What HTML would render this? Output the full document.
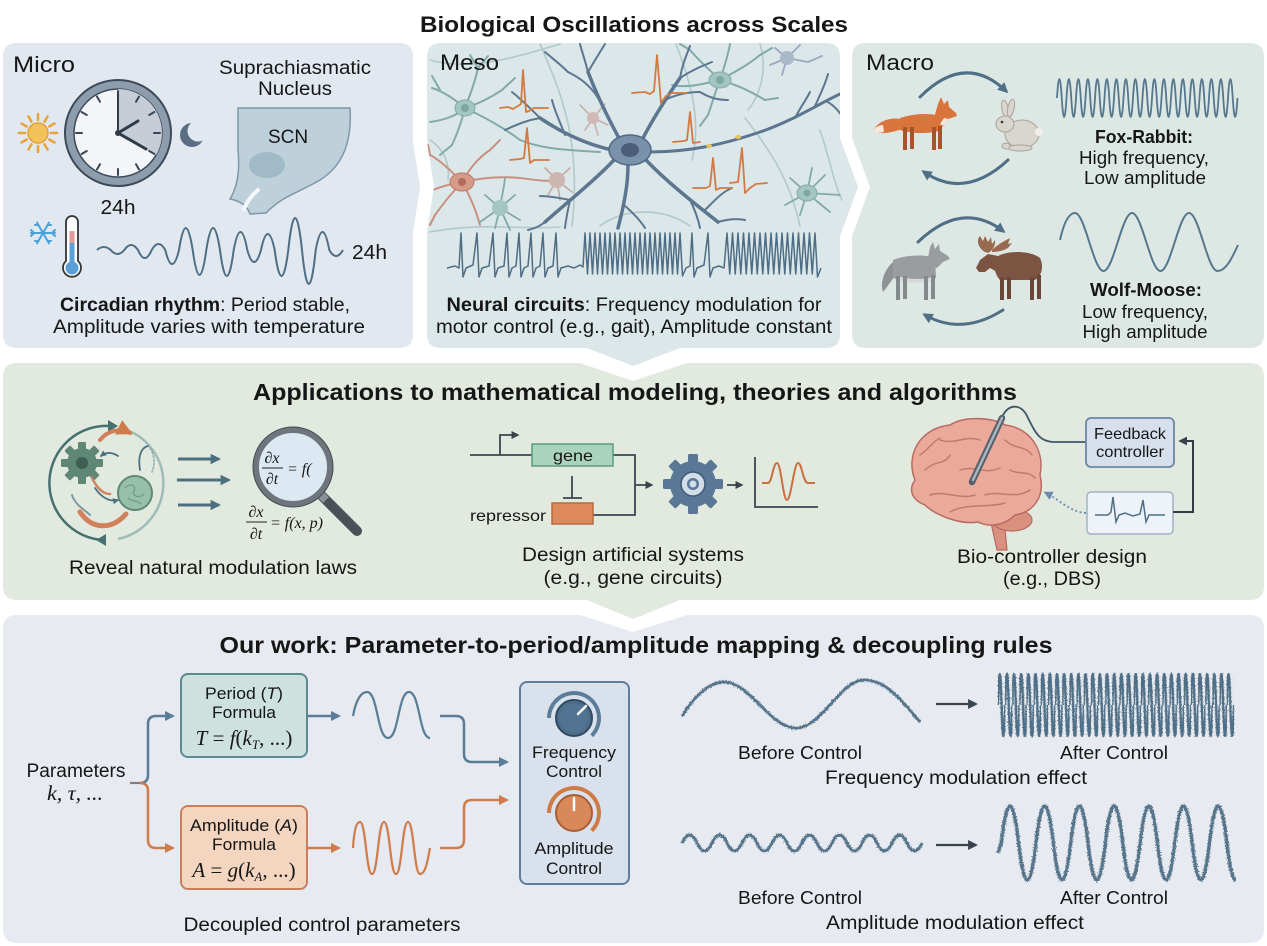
<!DOCTYPE html>
<html><head><meta charset="utf-8"><style>
html,body{margin:0;padding:0;background:#fff;}
svg{display:block;}
text{font-family:"Liberation Sans",Arial,sans-serif;fill:#161616;}
.serif{font-family:"Liberation Serif","Times New Roman",serif;}
</style></head><body>
<svg width="1267" height="946" viewBox="0 0 1267 946" xmlns="http://www.w3.org/2000/svg">
<defs>
<marker id="mB" viewBox="0 0 10 10" refX="8" refY="5" markerWidth="4" markerHeight="4" orient="auto"><path d="M0,0 L10,5 L0,10 Z" fill="#5a7d97"/></marker>
<marker id="mO" viewBox="0 0 10 10" refX="8" refY="5" markerWidth="4" markerHeight="4" orient="auto"><path d="M0,0 L10,5 L0,10 Z" fill="#cf7c4c"/></marker>
<marker id="mD" viewBox="0 0 10 10" refX="8" refY="5" markerWidth="4.5" markerHeight="4.5" orient="auto"><path d="M0,0 L10,5 L0,10 Z" fill="#3a434c"/></marker>
<marker id="mT" viewBox="0 0 10 10" refX="8" refY="5" markerWidth="3.5" markerHeight="3.5" orient="auto"><path d="M0,0 L10,5 L0,10 Z" fill="#4d7080"/></marker>
<marker id="mS" viewBox="0 0 10 10" refX="7" refY="5" markerWidth="3.5" markerHeight="3.5" orient="auto"><path d="M0,0 L10,5 L0,10 Z" fill="#4f6f86"/></marker>
<marker id="mL" viewBox="0 0 10 10" refX="7" refY="5" markerWidth="5" markerHeight="5" orient="auto"><path d="M0,0 L10,5 L0,10 Z" fill="#6a8ab0"/></marker>
<filter id="rough" x="-3%" y="-40%" width="106%" height="180%">
<feTurbulence type="fractalNoise" baseFrequency="0.8" numOctaves="2" seed="7" result="t"/>
<feDisplacementMap in="SourceGraphic" in2="t" scale="4.5" xChannelSelector="R" yChannelSelector="G"/>
</filter>
<pattern id="hf" x="998" y="669" width="7.15" height="72" patternUnits="userSpaceOnUse">
<path d="M0,36 Q1.7875,-26 3.575,36 T7.15,36" fill="none" stroke="#4f6f86" stroke-width="2"/>
</pattern>
<clipPath id="mesoClip"><path d="M441,43 H826 Q840,43 840,57 V138 L858,187 L840,236 V334 Q840,348 826,348 H680 L633,366 L587,348 H441 Q427,348 427,334 V232 L434,187 L427,142 V57 Q427,43 441,43 Z"/></clipPath>
<clipPath id="ampClip"><rect x="995" y="790" width="241" height="100"/></clipPath>
</defs>

<!-- Panels -->
<path d="M17,43 H399 Q413,43 413,57 V142 L420,187 L413,232 V334 Q413,348 399,348 H17 Q3,348 3,334 V57 Q3,43 17,43 Z" fill="#e1e8f0"/>
<path d="M441,43 H826 Q840,43 840,57 V138 L858,187 L840,236 V334 Q840,348 826,348 H680 L633,366 L587,348 H441 Q427,348 427,334 V232 L434,187 L427,142 V57 Q427,43 441,43 Z" fill="#dbe7e9"/>
<path d="M866,43 H1250 Q1264,43 1264,57 V334 Q1264,348 1250,348 H866 Q852,348 852,334 V236 L870,187 L852,138 V57 Q852,43 866,43 Z" fill="#dde8e4"/>
<path d="M17,363 H580 L633,381 L687,363 H1250 Q1264,363 1264,377 V586 Q1264,600 1250,600 H680 L633,619 L587,600 H17 Q3,600 3,586 V377 Q3,363 17,363 Z" fill="#e2e9de"/>
<path d="M17,615 H580 L633,632 L687,615 H1250 Q1264,615 1264,629 V929 Q1264,943 1250,943 H17 Q3,943 3,929 V629 Q3,615 17,615 Z" fill="#e7eaf0"/>

<!-- Title -->
<text x="634" y="32" text-anchor="middle" font-size="22" font-weight="bold" textLength="428" lengthAdjust="spacingAndGlyphs">Biological Oscillations across Scales</text>

<!-- ================= MICRO ================= -->
<text x="13" y="72" font-size="22" textLength="62" lengthAdjust="spacingAndGlyphs">Micro</text>
<text x="295" y="74" text-anchor="middle" font-size="19" textLength="152" lengthAdjust="spacingAndGlyphs">Suprachiasmatic</text>
<text x="295" y="95" text-anchor="middle" font-size="19" textLength="74" lengthAdjust="spacingAndGlyphs">Nucleus</text>
<g stroke="#e6a53a" stroke-width="2.5" stroke-linecap="round">
<line x1="51" y1="133" x2="57" y2="133"/><line x1="49.3" y1="139.5" x2="54.5" y2="142.5"/><line x1="44.5" y1="144.3" x2="47.5" y2="149.5"/><line x1="38" y1="146" x2="38" y2="152"/><line x1="31.5" y1="144.3" x2="28.5" y2="149.5"/><line x1="26.7" y1="139.5" x2="21.5" y2="142.5"/><line x1="25" y1="133" x2="19" y2="133"/><line x1="26.7" y1="126.5" x2="21.5" y2="123.5"/><line x1="31.5" y1="121.7" x2="28.5" y2="116.5"/><line x1="38" y1="120" x2="38" y2="114"/><line x1="44.5" y1="121.7" x2="47.5" y2="116.5"/><line x1="49.3" y1="126.5" x2="54.5" y2="123.5"/>
</g>
<circle cx="38" cy="133" r="10" fill="#f3c35b" stroke="#e2a23b" stroke-width="1.5"/>
<circle cx="118" cy="133" r="53" fill="#8d9dae" stroke="#3c4a58" stroke-width="2"/>
<circle cx="118" cy="133" r="44" fill="#f3f5f8" stroke="#3c4a58" stroke-width="1.5"/>
<path d="M118,133 L118,89 A44,44 0 0,1 156.1,155 Z" fill="#c6cdd7"/>
<g stroke="#3a4654" stroke-width="2" stroke-linecap="round">
<line x1="118" y1="97" x2="118" y2="91"/><line x1="136" y1="101.8" x2="139" y2="96.6"/><line x1="149.2" y1="115" x2="154.4" y2="112"/><line x1="154" y1="133" x2="160" y2="133"/><line x1="149.2" y1="151" x2="154.4" y2="154"/><line x1="136" y1="164.2" x2="139" y2="169.4"/><line x1="118" y1="169" x2="118" y2="175"/><line x1="100" y1="164.2" x2="97" y2="169.4"/><line x1="86.8" y1="151" x2="81.6" y2="154"/><line x1="82" y1="133" x2="76" y2="133"/><line x1="86.8" y1="115" x2="81.6" y2="112"/><line x1="100" y1="101.8" x2="97" y2="96.6"/>
</g>
<g stroke="#2f3b48" stroke-width="3" stroke-linecap="round">
<line x1="118" y1="133" x2="118" y2="95" stroke-width="2"/>
<line x1="118" y1="133" x2="138" y2="121"/>
<line x1="118" y1="133" x2="146" y2="149"/>
</g>
<circle cx="118" cy="133" r="3" fill="#2f3b48"/>
<circle cx="192" cy="135" r="12" fill="#5c6e86"/>
<circle cx="198" cy="131" r="10.5" fill="#e1e8f0"/>
<text x="118" y="214" text-anchor="middle" font-size="20" textLength="35" lengthAdjust="spacingAndGlyphs">24h</text>
<path d="M238,108 L350,108 C352,140 344,165 320,180 C300,192 282,196 266,213 L250,214 C247,205 240,201 230,199 C238,186 240,170 238,150 Z" fill="#bed1db" stroke="#7d98aa" stroke-width="1.5"/>
<ellipse cx="267" cy="165" rx="18" ry="13" fill="#a1bac8"/>
<path d="M244,209 C248,200 252,195 258,190" stroke="#f4f8fa" stroke-width="4" fill="none" stroke-linecap="round"/>
<text x="288" y="143" text-anchor="middle" font-size="19">SCN</text>
<g stroke="#4aa2d8" stroke-width="2" stroke-linecap="round">
<line x1="31" y1="233" x2="55" y2="233"/><line x1="37" y1="222.6" x2="49" y2="243.4"/><line x1="37" y1="243.4" x2="49" y2="222.6"/>
<line x1="52" y1="233" x2="55" y2="230"/><line x1="52" y1="233" x2="55" y2="236"/><line x1="34" y1="233" x2="31" y2="230"/><line x1="34" y1="233" x2="31" y2="236"/>
<line x1="47.5" y1="225" x2="51" y2="225"/><line x1="38.5" y1="241" x2="35" y2="241"/><line x1="38.5" y1="225" x2="35" y2="225"/><line x1="47.5" y1="241" x2="51" y2="241"/>
</g>
<path d="M66,222 A6,6 0 0,1 78,222 V261 A9,9 0 1,1 66,261 Z" fill="#fff" stroke="#333" stroke-width="1.8"/>
<rect x="69.5" y="231" width="5" height="12" fill="#e59a9a"/>
<rect x="69.5" y="243" width="5" height="24" fill="#5a9ed6"/>
<circle cx="72" cy="268" r="6.5" fill="#5a9ed6"/>
<path d="M97,250 C101.5,246 106.1,246 110.7,250 C115.2,255.3 119.8,255.3 124.3,250 C128.8,243.3 133.4,243.3 138,250 C142.5,260.7 147.1,260.7 151.7,250 C156.2,242 160.8,242 165.3,250 C169.8,268.7 174.4,268.7 179,250 C183.5,220.7 188.1,220.7 192.7,250 C197.2,283.3 201.8,283.3 206.3,250 C210.8,220.7 215.4,220.7 220,250 C224.5,284.7 229.1,284.7 233.7,250 C238.2,226 242.8,226 247.3,250 C251.8,266 256.4,266 261,250 C265.5,228.7 270.1,228.7 274.7,250 C279.2,284.7 283.8,284.7 288.3,250 C292.8,207.3 297.4,207.3 302,250 C306.5,295.3 311.1,295.3 315.7,250 C320.2,226 324.8,226 329.3,250 C333.8,258 338.4,258 343,250" fill="none" stroke="#4f6e86" stroke-width="2"/>
<text x="352" y="259" font-size="20" textLength="35" lengthAdjust="spacingAndGlyphs">24h</text>
<text x="205" y="311" text-anchor="middle" font-size="19" textLength="290" lengthAdjust="spacingAndGlyphs"><tspan font-weight="bold">Circadian rhythm</tspan>: Period stable,</text>
<text x="209" y="333" text-anchor="middle" font-size="19" textLength="312" lengthAdjust="spacingAndGlyphs">Amplitude varies with temperature</text>

<!-- ================= MESO ================= -->
<g clip-path="url(#mesoClip)" fill="none" stroke-linecap="round">
<g stroke="#b2c9cc" stroke-width="1.6">
<path d="M430,60 C470,72 520,56 560,44"/>
<path d="M540,44 C560,90 582,140 572,226"/>
<path d="M676,44 C690,80 702,120 692,160"/>
<path d="M745,118 C770,150 790,180 800,226"/>
<path d="M430,232 C480,222 520,230 560,227"/>
<path d="M820,130 C830,160 836,190 842,200"/>
<path d="M760,44 C768,70 760,95 748,110"/>
<path d="M430,140 C445,150 450,165 448,180"/>
<path d="M600,226 C620,210 660,205 690,226"/>
</g>
<g stroke="#82aaa7" stroke-width="2">
<path d="M465,108 C455,100 445,92 432,88"/><path d="M465,108 C458,115 445,120 430,122"/><path d="M465,108 C462,120 458,132 452,145"/><path d="M465,108 C470,95 475,82 478,68"/><path d="M465,108 C478,104 490,98 502,90"/><path d="M465,108 C480,115 500,125 520,140 C545,150 570,150 600,152"/>
<path d="M440,90 L432,76"/><path d="M452,145 L440,155"/><path d="M478,68 L470,55"/><path d="M502,90 L515,78"/><path d="M478,68 L488,56"/>
</g>
<ellipse cx="465" cy="108" rx="10" ry="8" fill="#a4c6c0" stroke="#82aaa7"/>
<circle cx="465" cy="108" r="4" fill="#7fa7a2"/>
<g stroke="#82aaa7" stroke-width="2">
<path d="M720,80 C710,70 700,62 690,50"/><path d="M720,80 C735,72 748,65 760,55"/><path d="M720,80 C738,85 752,92 765,100"/><path d="M720,80 C715,92 712,104 708,115"/><path d="M720,80 C725,65 728,55 730,44"/><path d="M720,80 C700,85 685,88 672,85"/>
<path d="M760,55 L772,48"/><path d="M765,100 L778,98"/><path d="M690,50 L680,44"/><path d="M708,115 L700,126"/>
</g>
<ellipse cx="720" cy="80" rx="11" ry="8" fill="#a4c6c0" stroke="#82aaa7"/>
<circle cx="720" cy="80" r="4" fill="#7fa7a2"/>
<g stroke="#98a9c0" stroke-width="1.8">
<path d="M787,58 L800,45"/><path d="M787,58 L808,62"/><path d="M787,58 L775,48"/><path d="M787,58 L782,75"/><path d="M787,58 L770,65"/><path d="M808,62 L822,56"/>
</g>
<circle cx="787" cy="58" r="7" fill="#aab8cc"/>
<g stroke="#c9aeab" stroke-width="1.6">
<path d="M593,118 L580,105"/><path d="M593,118 L605,104"/><path d="M593,118 L608,125"/><path d="M593,118 L585,130"/><path d="M593,118 L598,135"/>
</g>
<circle cx="593" cy="118" r="6" fill="#d1b9b6"/>
<g stroke="#c99080" stroke-width="2">
<path d="M462,182 C450,170 440,160 430,155"/><path d="M462,182 C445,185 438,188 428,192"/><path d="M462,182 C450,195 442,205 435,215"/><path d="M462,182 C470,168 478,158 490,150"/><path d="M462,182 C480,178 500,176 520,178 C535,180 548,182 557,180"/><path d="M462,182 C470,196 476,210 480,225"/>
<path d="M490,150 L500,140"/><path d="M430,155 L428,145"/><path d="M435,215 L430,225"/>
</g>
<ellipse cx="462" cy="182" rx="12" ry="9" fill="#d69a88" stroke="#b97a6a"/>
<circle cx="462" cy="182" r="4" fill="#b46a5c"/>
<g stroke="#c4aaa4" stroke-width="1.6">
<path d="M557,180 L545,168"/><path d="M557,180 L570,168"/><path d="M557,180 L572,192"/><path d="M557,180 L548,195"/><path d="M557,180 L560,200"/>
</g>
<circle cx="557" cy="180" r="8" fill="#cdb6b0"/>
<g stroke="#82aaa7" stroke-width="1.8">
<path d="M500,208 L485,195"/><path d="M500,208 L515,195"/><path d="M500,208 L520,220"/><path d="M500,208 L480,222"/><path d="M500,208 L495,228"/><path d="M500,208 L510,230"/><path d="M500,208 C502,195 504,188 505,178"/>
</g>
<circle cx="500" cy="208" r="8" fill="#a4c6c0"/>
<g stroke="#82aaa7" stroke-width="1.8">
<path d="M807,193 L790,178"/><path d="M807,193 L825,175"/><path d="M807,193 L840,195"/><path d="M807,193 L830,212"/><path d="M807,193 L800,215"/><path d="M807,193 L785,205"/><path d="M807,193 L812,168"/>
</g>
<ellipse cx="807" cy="193" rx="10" ry="8" fill="#a4c6c0" stroke="#82aaa7"/>
<circle cx="807" cy="193" r="3.5" fill="#7fa7a2"/>
<g stroke="#5d7690" stroke-width="3.5">
<path d="M620,140 C608,118 598,98 588,72"/><path d="M642,140 C652,120 665,100 680,78"/><path d="M612,150 C590,145 565,135 540,118"/><path d="M614,160 C595,180 570,200 545,222"/><path d="M628,165 C628,185 624,205 618,228"/><path d="M646,160 C665,180 690,200 718,222"/>
</g>
<path d="M650,152 C690,152 725,144 760,132 C790,122 815,106 840,94" stroke="#5d7690" stroke-width="3"/>
<g stroke="#5d7690" stroke-width="2">
<path d="M598,98 C590,85 580,78 568,72"/><path d="M588,72 C585,60 582,52 580,44"/><path d="M588,72 C595,60 600,52 605,44"/><path d="M665,100 C675,95 688,92 700,92"/><path d="M680,78 C682,66 686,56 690,46"/><path d="M680,78 C692,70 702,66 712,62"/><path d="M565,135 C560,122 555,112 552,100"/><path d="M540,118 C530,108 522,100 512,92"/><path d="M540,118 C528,120 518,124 505,130"/><path d="M570,200 C560,198 550,196 540,196"/><path d="M545,222 C540,226 536,228 528,230"/><path d="M570,200 C568,210 566,218 565,228"/><path d="M624,205 C632,212 640,220 645,228"/><path d="M690,200 C695,210 698,218 700,228"/><path d="M718,222 C725,220 735,218 745,220"/><path d="M705,210 C715,200 722,192 732,188"/><path d="M815,106 C820,95 825,85 828,74"/><path d="M826,101 C832,104 838,110 842,116"/><path d="M795,118 C800,108 806,100 810,92"/><path d="M568,72 C560,64 552,58 545,52"/><path d="M700,92 C710,98 718,100 728,100"/>
</g>
<ellipse cx="709" cy="146" rx="3" ry="2" fill="#e8c45a" stroke="none"/>
<ellipse cx="738" cy="137" rx="3" ry="2" fill="#e8c45a" stroke="none"/>
<ellipse cx="630" cy="150" rx="21" ry="15" fill="#7a91aa" stroke="#506985" stroke-width="1.5"/>
<ellipse cx="630" cy="150" rx="9" ry="7" fill="#4c5d7a" stroke="none"/>
<g stroke="#d37a42" stroke-width="1.8" stroke-linejoin="round">
<path d="M500,108 L508,107 L513,109 L518,106 L521,104 L523,70 L526,112 L529,111 L534,108 L548,108"/>
<path d="M510,160 L520,159 L524,158 L527,128 L530,163 L534,160 L549,160"/>
<path d="M632,93 L645,92 L650,94 L654,91 L657,55 L661,103 L666,96 L672,93 L687,93"/>
<path d="M673,142 L684,141 L687,140 L690,112 L693,143 L700,142"/>
<path d="M693,188 L706,188 L710,186 L713,158 L716,190 L720,188 L732,188"/>
<path d="M730,183 L738,182 L742,148 L745,193 L750,188 L756,184 L767,183"/>
</g>
</g>
<text x="440" y="70" font-size="22" textLength="59" lengthAdjust="spacingAndGlyphs">Meso</text>
<path d="M447,268 L455,266 L459,268 L461,233 L463,277 L466,268 L473,265 L477,233 L479,277 L482,268 L489,266 L493,233 L495,277 L498,268 L504,266 L507,233 L509,277 L512,268 L516,266 L519,233 L521,277 L524,268 L528,266 L531,233 L533,277 L536,268 L540,266 L543,233 L545,277 L548,268 L553,266 L556,233 L558,277 L561,268 L568,266 L574,268 L580,265 L583,267 L585,233 L587.5,274 L590,233 L592.5,274 L595,233 L597.5,274 L600,233 L602.5,274 L605,233 L607.5,274 L610,233 L612.5,274 L615,233 L617.5,274 L620,233 L622.5,274 L625,233 L627.5,274 L630,233 L632.5,274 L635,233 L637.5,274 L640,233 L642.5,274 L645,233 L647.5,274 L650,233 L652.5,274 L655,233 L657.5,274 L660,233 L662.5,274 L665,233 L667.5,274 L670,233 L672.5,274 L675,233 L677.5,274 L680,233 L682.5,276 L686,268 L690,266 L692,233 L694,277 L697,268 L704,265 L708,233 L710,277 L713,268 L719,266 L724,268 L727,233 L729.75,274 L732.5,233 L735.25,274 L738,233 L740.75,274 L743.5,233 L746.25,274 L749,233 L751.75,274 L754.5,233 L757.25,274 L760,233 L762.75,274 L765.5,233 L768.25,274 L771,233 L773.75,274 L776.5,233 L779.25,274 L782,233 L784.75,274 L787.5,233 L790.25,274 L793,233 L795.75,274 L798.5,233 L801.25,274 L804,233 L806.75,274 L809.5,233 L812.25,274 L815,233 L817.5,277 L821,268" fill="none" stroke="#4e6d84" stroke-width="1.5" stroke-linejoin="round"/>
<text x="634" y="311" text-anchor="middle" font-size="19" textLength="375" lengthAdjust="spacingAndGlyphs"><tspan font-weight="bold">Neural circuits</tspan>: Frequency modulation for</text>
<text x="634" y="333" text-anchor="middle" font-size="19" textLength="396" lengthAdjust="spacingAndGlyphs">motor control (e.g., gait), Amplitude constant</text>

<!-- ================= MACRO ================= -->
<text x="866" y="70" font-size="22" textLength="68" lengthAdjust="spacingAndGlyphs">Macro</text>
<g fill="none" stroke="#4f6f86" stroke-width="3" stroke-linecap="round">
<path d="M920,97 Q965,52 1006,91" marker-end="url(#mS)"/>
<path d="M1008,160 Q965,200 924,172" marker-end="url(#mS)"/>
<path d="M918,242 Q962,200 1003,231" marker-end="url(#mS)"/>
<path d="M1003,310 Q962,336 925,315" marker-end="url(#mS)"/>
</g>
<path d="M873,131 C878,120 893,116 905,120 L906,128 C895,131 884,136 873,131 Z" fill="#d8743c"/>
<path d="M873,131 C875,127 879,125 883,125 L884,132 C880,133 876,133 873,131 Z" fill="#f4e8dc"/>
<path d="M900,118 C915,113 930,113 940,116 L942,130 C930,134 912,134 900,130 Z" fill="#d8743c"/>
<path d="M934,118 L938,104 L941,97 L944,104 L948,100 L949,107 L956,113 L957,116 L948,119 L944,126 L936,128 Z" fill="#d8743c"/>
<path d="M944,118 L948,119 L944,126 L940,124 Z" fill="#f4e8dc"/>
<g fill="#a8532a"><rect x="903" y="127" width="4" height="23"/><rect x="910" y="127" width="4" height="22"/><rect x="932" y="127" width="4" height="23"/><rect x="938" y="126" width="4" height="23"/></g>
<g fill="#d9d5cf" stroke="#a9a39b" stroke-width="1">
<ellipse cx="1005" cy="109" rx="3.2" ry="9" transform="rotate(-10 1005 109)"/>
<ellipse cx="1011" cy="108" rx="3.2" ry="9" transform="rotate(12 1011 108)"/>
<ellipse cx="1022" cy="134" rx="17" ry="14"/>
<ellipse cx="1005" cy="124" rx="9" ry="8"/>
<ellipse cx="1020" cy="148" rx="12" ry="3"/>
<ellipse cx="1006" cy="146" rx="4" ry="3"/>
</g>
<circle cx="1039" cy="132" r="4" fill="#f1efeb"/>
<circle cx="1002" cy="122" r="1.3" fill="#333"/>
<path d="M893,262 C884,270 880,283 883,292 C888,286 893,278 898,272 Z" fill="#8f9294"/>
<path d="M893,260 C905,255 925,254 935,258 L936,278 C925,282 905,282 893,278 Z" fill="#9a9d9f"/>
<path d="M898,276 C910,280 925,280 934,276 L934,280 C920,284 905,283 898,280 Z" fill="#d8d8d8"/>
<path d="M928,258 L930,247 L933,242 L935,249 L939,244 L940,251 L948,256 L950,259 L943,262 L937,268 L930,266 Z" fill="#9a9d9f"/>
<g fill="#86898b"><rect x="896" y="276" width="4" height="24"/><rect x="903" y="276" width="4" height="23"/><rect x="924" y="276" width="4" height="24"/><rect x="931" y="275" width="4" height="24"/></g>
<path d="M995,258 C1005,250 1030,250 1040,258 C1044,266 1042,276 1035,280 L1000,280 C995,275 993,265 995,258 Z" fill="#7b5442"/>
<path d="M998,256 L988,254 L980,260 L976,268 L979,272 L985,272 L990,268 L997,272 Z" fill="#7b5442"/>
<path d="M985,252 C978,248 976,240 980,236 L983,241 L985,236 L988,242 L991,237 L992,244 L995,240 C996,246 992,251 988,253 Z" fill="#9a6a50"/>
<path d="M992,250 C998,244 1006,240 1010,238 L1008,244 L1012,243 L1008,248 C1003,251 997,252 992,252 Z" fill="#9a6a50"/>
<g fill="#6a4636"><rect x="1000" y="277" width="4" height="23"/><rect x="1007" y="277" width="4" height="22"/><rect x="1030" y="277" width="4" height="23"/><rect x="1037" y="275" width="4" height="24"/></g>
<path d="M1057,98 Q1059.375,60 1061.75,98 T1066.5,98 T1071.25,98 T1076,98 T1080.75,98 T1085.5,98 T1090.25,98 T1095,98 T1099.75,98 T1104.5,98 T1109.25,98 T1114,98 T1118.75,98 T1123.5,98 T1128.25,98 T1133,98 T1137.75,98 T1142.5,98 T1147.25,98 T1152,98 T1156.75,98 T1161.5,98 T1166.25,98 T1171,98 T1175.75,98 T1180.5,98 T1185.25,98 T1190,98 T1194.75,98 T1199.5,98 T1204.25,98 T1209,98 T1213.75,98 T1218.5,98 T1223.25,98 T1228,98 T1232.75,98 T1237.5,98" fill="none" stroke="#56778d" stroke-width="1.8"/>
<path d="M1060,240 C1064,222 1069,213 1075,213 C1085,213 1093.5,271 1103.5,271 C1113.5,271 1122,213 1132,213 C1142,213 1150.5,271 1160.5,271 C1170.5,271 1179,213 1189,213 C1199,213 1207.5,271 1217.5,271 C1226,271 1232,258 1238,245" fill="none" stroke="#56778d" stroke-width="2"/>
<text x="1144" y="143" text-anchor="middle" font-size="18" font-weight="bold" textLength="98" lengthAdjust="spacingAndGlyphs">Fox-Rabbit:</text>
<text x="1144" y="164" text-anchor="middle" font-size="18" textLength="130" lengthAdjust="spacingAndGlyphs">High frequency,</text>
<text x="1145" y="184" text-anchor="middle" font-size="18" textLength="122" lengthAdjust="spacingAndGlyphs">Low amplitude</text>
<text x="1146" y="296" text-anchor="middle" font-size="18" font-weight="bold" textLength="112" lengthAdjust="spacingAndGlyphs">Wolf-Moose:</text>
<text x="1145" y="318" text-anchor="middle" font-size="18" textLength="126" lengthAdjust="spacingAndGlyphs">Low frequency,</text>
<text x="1145" y="338" text-anchor="middle" font-size="18" textLength="125" lengthAdjust="spacingAndGlyphs">High amplitude</text>

<!-- ================= APPLICATIONS ================= -->
<text x="635" y="400" text-anchor="middle" font-size="23" font-weight="bold" textLength="764" lengthAdjust="spacingAndGlyphs">Applications to mathematical modeling, theories and algorithms</text>
<path d="M110,426 A57,57 0 1,0 103,540" fill="none" stroke="#46706f" stroke-width="2.5"/>
<path d="M124,429 A57,57 0 0,1 118,539" fill="none" stroke="#9fbcb8" stroke-width="2.5"/>
<path d="M108,420 L118,426 L108,432 Z" fill="#46706f"/>
<path d="M106,534 L96,540 L106,546 Z" fill="#46706f"/>
<g transform="translate(82,463)" fill="#5f8775">
<rect x="-4" y="-21" width="8" height="9" rx="1"/><rect x="-4" y="-21" width="8" height="9" rx="1" transform="rotate(45)"/><rect x="-4" y="-21" width="8" height="9" rx="1" transform="rotate(90)"/><rect x="-4" y="-21" width="8" height="9" rx="1" transform="rotate(135)"/><rect x="-4" y="-21" width="8" height="9" rx="1" transform="rotate(180)"/><rect x="-4" y="-21" width="8" height="9" rx="1" transform="rotate(225)"/><rect x="-4" y="-21" width="8" height="9" rx="1" transform="rotate(270)"/><rect x="-4" y="-21" width="8" height="9" rx="1" transform="rotate(315)"/>
<circle r="15"/><circle r="6" fill="#3f5f55"/>
</g>
<circle cx="135" cy="493" r="17" fill="#98bfa9" stroke="#5e8a74" stroke-width="2"/>
<path d="M125,488 C130,482 137,486 134,491 C131,496 140,499 144,494 M128,498 C132,502 138,500 141,504" fill="none" stroke="#6f9b86" stroke-width="1.2"/>
<g fill="none" stroke-linecap="round">
<path d="M100,440 C108,430 120,428 130,433" stroke="#d0805a" stroke-width="4" marker-end="url(#mO)"/>
<path d="M80,512 C92,530 112,530 126,514" stroke="#d0805a" stroke-width="5"/>
<path d="M92,478 C98,490 104,494 110,494" stroke="#d0805a" stroke-width="2.5"/>
<path d="M118,456 C112,452 106,452 101,456" stroke="#4d7080" stroke-width="1.8" marker-end="url(#mT)"/>
<path d="M95,488 C102,498 110,502 118,500" stroke="#4d7080" stroke-width="1.8" marker-end="url(#mT)"/>
<path d="M140,470 C138,458 140,448 148,446" stroke="#4d7080" stroke-width="1.8"/>
<path d="M150,448 C155,455 155,465 152,472" stroke="#8fa6ad" stroke-width="1.5" stroke-dasharray="2 2"/>
<path d="M72,495 C75,505 85,510 90,515" stroke="#7f9aa0" stroke-width="2"/>
</g>
<g stroke="#4a6f7e" stroke-width="3" fill="none">
<line x1="178" y1="459" x2="219" y2="459" marker-end="url(#mT)"/>
<line x1="177" y1="480" x2="229" y2="480" marker-end="url(#mT)"/>
<line x1="178" y1="505" x2="219" y2="505" marker-end="url(#mT)"/>
</g>
<line x1="322" y1="496" x2="357" y2="531" stroke="#4b5157" stroke-width="10" stroke-linecap="round"/>
<line x1="318" y1="492" x2="326" y2="500" stroke="#8a9198" stroke-width="8"/>
<circle cx="293" cy="467" r="37" fill="#dde9f2" stroke="#6e757c" stroke-width="6"/>
<circle cx="293" cy="467" r="40" fill="none" stroke="#454b51" stroke-width="1"/>
<g class="serif" font-style="italic">
<text x="272" y="463" text-anchor="middle" font-size="16" class="serif">∂x</text>
<line x1="262" y1="468" x2="283" y2="468" stroke="#222" stroke-width="1"/>
<text x="272" y="484" text-anchor="middle" font-size="16" class="serif">∂t</text>
<text x="287" y="474" font-size="16" class="serif">= f(</text>
<text x="256" y="517" text-anchor="middle" font-size="16" class="serif">∂x</text>
<line x1="246" y1="522" x2="267" y2="522" stroke="#222" stroke-width="1"/>
<text x="256" y="539" text-anchor="middle" font-size="16" class="serif">∂t</text>
<text x="270" y="528" font-size="16" class="serif">= f(x, p)</text>
</g>
<text x="213" y="574" text-anchor="middle" font-size="19" textLength="288" lengthAdjust="spacingAndGlyphs">Reveal natural modulation laws</text>
<g fill="none" stroke="#3c4650" stroke-width="1.8">
<path d="M470,455 H532"/>
<path d="M500,455 V435 H518" marker-end="url(#mD)"/>
<path d="M613,455 H635 V515 H593"/>
<path d="M635,485 H652" marker-end="url(#mD)"/>
<path d="M572,476 V498 M563,498 H582"/>
<path d="M727,485 H742" marker-end="url(#mD)"/>
<path d="M755,457 V507 H818"/>
</g>
<rect x="532" y="444" width="81" height="22" fill="#a9d3bc" stroke="#5d9a7c" stroke-width="1.5"/>
<text x="573" y="461" text-anchor="middle" font-size="16" textLength="40" lengthAdjust="spacingAndGlyphs">gene</text>
<rect x="552" y="503" width="41" height="21" fill="#df8a5c" stroke="#b66a40" stroke-width="1.5"/>
<text x="546" y="521" text-anchor="end" font-size="16" textLength="76" lengthAdjust="spacingAndGlyphs">repressor</text>
<g transform="translate(693,484)" fill="#5a7895">
<rect x="-5" y="-30" width="10" height="10" rx="1.5"/><rect x="-5" y="-30" width="10" height="10" rx="1.5" transform="rotate(45)"/><rect x="-5" y="-30" width="10" height="10" rx="1.5" transform="rotate(90)"/><rect x="-5" y="-30" width="10" height="10" rx="1.5" transform="rotate(135)"/><rect x="-5" y="-30" width="10" height="10" rx="1.5" transform="rotate(180)"/><rect x="-5" y="-30" width="10" height="10" rx="1.5" transform="rotate(225)"/><rect x="-5" y="-30" width="10" height="10" rx="1.5" transform="rotate(270)"/><rect x="-5" y="-30" width="10" height="10" rx="1.5" transform="rotate(315)"/>
<circle r="23"/><circle r="12" fill="#d2dde7" stroke="#3f5a74" stroke-width="1.5"/><circle r="6" fill="#5a7895"/><circle r="3.5" fill="#d2dde7"/>
</g>
<path d="M762,483 L768,483 C772,483 773,463 777,463 C781,463 783,500 787,500 C791,500 794,463 798,463 C802,463 803,483 808,483 L815,483" fill="none" stroke="#c9703f" stroke-width="2"/>
<text x="633" y="561" text-anchor="middle" font-size="19" textLength="222" lengthAdjust="spacingAndGlyphs">Design artificial systems</text>
<text x="633" y="584" text-anchor="middle" font-size="19" textLength="179" lengthAdjust="spacingAndGlyphs">(e.g., gene circuits)</text>
<path d="M990,518 L997,550 L1007,550 L1004,518 Z" fill="#d9907f" stroke="#b86a60" stroke-width="1.2"/>
<ellipse cx="1012" cy="520" rx="20" ry="11" fill="#d8907f" stroke="#b86a60" stroke-width="1.2"/>
<path d="M915,480 C905,455 920,428 950,425 C965,415 995,418 1005,425 C1030,428 1045,450 1040,475 C1045,495 1035,512 1015,515 C1005,525 990,528 978,522 C960,525 935,515 925,505 C912,500 908,490 915,480 Z" fill="#eaa99a" stroke="#b86a60" stroke-width="1.5"/>
<g fill="none" stroke="#c27a6b" stroke-width="1.5" stroke-linecap="round">
<path d="M925,470 C935,460 945,465 950,455"/><path d="M940,440 C955,445 965,435 980,440"/><path d="M960,470 C975,465 985,475 1000,468"/><path d="M1005,440 C1015,450 1025,445 1032,455"/><path d="M930,495 C945,490 960,500 975,495"/><path d="M985,495 C1000,490 1015,500 1030,490"/><path d="M950,512 C965,503 990,508 1005,503"/><path d="M920,455 C928,450 932,442 940,438"/><path d="M1010,470 C1018,475 1028,470 1035,478"/>
</g>
<path d="M1003,415 C1010,403 1022,404 1028,418 C1036,434 1040,442 1055,442 L1087,442" fill="none" stroke="#3f556a" stroke-width="1.8"/>
<line x1="1002" y1="418" x2="972" y2="482" stroke="#55606a" stroke-width="6.5" stroke-linecap="round"/>
<line x1="1002" y1="418" x2="973" y2="480" stroke="#aab4bd" stroke-width="2.5" stroke-linecap="round"/>
<rect x="1086" y="418" width="88" height="49" rx="5" fill="#d6dfeb" stroke="#6a87a6" stroke-width="1.8"/>
<text x="1130" y="439" text-anchor="middle" font-size="16" textLength="72" lengthAdjust="spacingAndGlyphs">Feedback</text>
<text x="1130" y="457" text-anchor="middle" font-size="16" textLength="68" lengthAdjust="spacingAndGlyphs">controller</text>
<rect x="1087" y="492" width="86" height="42" rx="4" fill="#eef3f9" stroke="#9fb3c8" stroke-width="1.5"/>
<path d="M1095,515 L1108,515 L1111,512 L1113,497 L1116,522 L1119,515 L1125,513 L1133,516 L1140,514 L1143,500 L1146,522 L1149,515 L1165,515" fill="none" stroke="#4f6f86" stroke-width="1.5"/>
<path d="M1173,512 H1193 V441 H1180" fill="none" stroke="#333c45" stroke-width="2" marker-end="url(#mD)"/>
<path d="M1086,513 C1070,512 1060,500 1046,493" fill="none" stroke="#6a8ab0" stroke-width="1.8" stroke-dasharray="2 2.5" marker-end="url(#mL)"/>
<text x="1052" y="563" text-anchor="middle" font-size="19" textLength="190" lengthAdjust="spacingAndGlyphs">Bio-controller design</text>
<text x="1052" y="585" text-anchor="middle" font-size="19" textLength="98" lengthAdjust="spacingAndGlyphs">(e.g., DBS)</text>

<!-- ================= OUR WORK ================= -->
<text x="636" y="653" text-anchor="middle" font-size="23" font-weight="bold" textLength="833" lengthAdjust="spacingAndGlyphs">Our work: Parameter-to-period/amplitude mapping &amp; decoupling rules</text>
<text x="76" y="777" text-anchor="middle" font-size="19" textLength="99" lengthAdjust="spacingAndGlyphs">Parameters</text>
<text x="75" y="800" text-anchor="middle" font-size="21" class="serif" font-style="italic" textLength="56" lengthAdjust="spacingAndGlyphs">k, τ, ...</text>
<path d="M130,783 H140" stroke="#8a7a75" stroke-width="2.2" fill="none"/>
<path d="M140,783 Q148,783 148,775 V724 Q148,716 156,716 H173" fill="none" stroke="#5a7d97" stroke-width="2.5" marker-end="url(#mB)"/>
<path d="M140,783 Q148,783 148,791 V840 Q148,848 156,848 H173" fill="none" stroke="#cf7c4c" stroke-width="2.5" marker-end="url(#mO)"/>
<rect x="181" y="674" width="126" height="83" rx="7" fill="#cde2df" stroke="#5b8b91" stroke-width="2"/>
<text x="244" y="699" text-anchor="middle" font-size="17" textLength="78" lengthAdjust="spacingAndGlyphs">Period (<tspan font-style="italic">T</tspan>)</text>
<text x="244" y="718" text-anchor="middle" font-size="17" textLength="64" lengthAdjust="spacingAndGlyphs">Formula</text>
<text x="244" y="745" text-anchor="middle" font-size="21" class="serif"><tspan font-style="italic">T</tspan> = <tspan font-style="italic">f</tspan>(<tspan font-style="italic">k</tspan><tspan font-size="13" font-style="italic" dy="4">T</tspan><tspan dy="-4">, ...)</tspan></text>
<rect x="181" y="806" width="126" height="83" rx="7" fill="#f4d5bf" stroke="#c7815a" stroke-width="2"/>
<text x="244" y="831" text-anchor="middle" font-size="17" textLength="108" lengthAdjust="spacingAndGlyphs">Amplitude (<tspan font-style="italic">A</tspan>)</text>
<text x="244" y="850" text-anchor="middle" font-size="17" textLength="64" lengthAdjust="spacingAndGlyphs">Formula</text>
<text x="244" y="877" text-anchor="middle" font-size="21" class="serif"><tspan font-style="italic">A</tspan> = <tspan font-style="italic">g</tspan>(<tspan font-style="italic">k</tspan><tspan font-size="13" font-style="italic" dy="4">A</tspan><tspan dy="-4">, ...)</tspan></text>
<line x1="307" y1="716" x2="339" y2="716" stroke="#5a7d97" stroke-width="2.5" marker-end="url(#mB)"/>
<line x1="307" y1="848" x2="339" y2="848" stroke="#cf7c4c" stroke-width="2.5" marker-end="url(#mO)"/>
<path d="M353,716 C356,700 361,692 367,692 C378,692 377,738 388,738 C399,738 398,692 409,692 C420,692 419,738 430,738" fill="none" stroke="#5a7d97" stroke-width="2.2"/>
<path d="M353,848 C354,832 356,822 360,822 C366,822 366,874 372,874 C378,874 378,822 384,822 C390,822 390,874 396,874 C402,874 402,822 408,822 C414,822 414,874 420,874 C426,874 428,858 430,848" fill="none" stroke="#cf7c4c" stroke-width="2.2"/>
<path d="M440,716 H456 Q464,716 464,724 V754 Q464,762 472,762 H507" fill="none" stroke="#5a7d97" stroke-width="2.5" marker-end="url(#mB)"/>
<path d="M440,848 H456 Q464,848 464,840 V808 Q464,800 472,800 H507" fill="none" stroke="#cf7c4c" stroke-width="2.5" marker-end="url(#mO)"/>
<rect x="520" y="682" width="109" height="202" rx="7" fill="#d8e1ec" stroke="#5f7d9c" stroke-width="2"/>
<path d="M549,718 A25,25 0 1,1 591.7,735.7" fill="none" stroke="#5c7d9a" stroke-width="4"/>
<circle cx="574" cy="718" r="18" fill="#4d6d88" stroke="#2f4a62" stroke-width="2"/>
<circle cx="574" cy="718" r="14" fill="#57789a" opacity="0.6"/>
<line x1="578" y1="714" x2="586" y2="706" stroke="#fff" stroke-width="2.5" stroke-linecap="round"/>
<text x="574" y="758" text-anchor="middle" font-size="17" textLength="84" lengthAdjust="spacingAndGlyphs">Frequency</text>
<text x="574" y="777" text-anchor="middle" font-size="17" textLength="56" lengthAdjust="spacingAndGlyphs">Control</text>
<path d="M549,813 A25,25 0 1,1 591.7,830.7" fill="none" stroke="#d07a45" stroke-width="4"/>
<circle cx="574" cy="813" r="18" fill="#d9885a" stroke="#a85e35" stroke-width="2"/>
<line x1="574" y1="810" x2="574" y2="798" stroke="#fff" stroke-width="2.5" stroke-linecap="round"/>
<text x="574" y="854" text-anchor="middle" font-size="17" textLength="79" lengthAdjust="spacingAndGlyphs">Amplitude</text>
<text x="574" y="874" text-anchor="middle" font-size="17" textLength="56" lengthAdjust="spacingAndGlyphs">Control</text>
<text x="322" y="931" text-anchor="middle" font-size="19" textLength="277" lengthAdjust="spacingAndGlyphs">Decoupled control parameters</text>
<g fill="none" stroke="#56758b">
<path d="M682,716 C695,695 710,682 724,682 C750,682 770,728 796,728 C822,728 840,680 864,680 C888,680 905,705 920,722" stroke-width="3" filter="url(#rough)"/>
<path d="M682,716 C695,695 710,682 724,682 C750,682 770,728 796,728 C822,728 840,680 864,680 C888,680 905,705 920,722" stroke-width="2"/>
<path d="M682,843 Q689.5,827 697,843 T712,843 T727,843 T742,843 T757,843 T772,843 T787,843 T802,843 T817,843 T832,843 T847,843 T862,843 T877,843 T892,843 T907,843 T922,843" stroke-width="3" filter="url(#rough)"/>
<path d="M682,843 Q689.5,827 697,843 T712,843 T727,843 T742,843 T757,843 T772,843 T787,843 T802,843 T817,843 T832,843 T847,843 T862,843 T877,843 T892,843 T907,843 T922,843" stroke-width="2"/>
<g clip-path="url(#ampClip)">
<path d="M998,853 L1001.3,843 Q1009.98,769 1018.65,843 T1036,843 T1053.35,843 T1070.7,843 T1088.05,843 T1105.4,843 T1122.75,843 T1140.1,843 T1157.45,843 T1174.8,843 T1192.15,843 T1209.5,843 T1226.85,843 T1244.2,843" stroke-width="3.5" filter="url(#rough)"/>
<path d="M998,853 L1001.3,843 Q1009.98,769 1018.65,843 T1036,843 T1053.35,843 T1070.7,843 T1088.05,843 T1105.4,843 T1122.75,843 T1140.1,843 T1157.45,843 T1174.8,843 T1192.15,843 T1209.5,843 T1226.85,843 T1244.2,843" stroke-width="2.2"/>
</g>
</g>
<rect x="998" y="669" width="236" height="72" fill="url(#hf)" filter="url(#rough)"/>
<rect x="998" y="669" width="236" height="72" fill="url(#hf)"/>
<line x1="936" y1="704" x2="976" y2="704" stroke="#3a434c" stroke-width="2.2" marker-end="url(#mD)"/>
<line x1="936" y1="845" x2="976" y2="845" stroke="#3a434c" stroke-width="2.2" marker-end="url(#mD)"/>
<text x="800" y="759" text-anchor="middle" font-size="18" textLength="124" lengthAdjust="spacingAndGlyphs">Before Control</text>
<text x="1114" y="759" text-anchor="middle" font-size="18" textLength="108" lengthAdjust="spacingAndGlyphs">After Control</text>
<text x="956" y="784" text-anchor="middle" font-size="19" textLength="262" lengthAdjust="spacingAndGlyphs">Frequency modulation effect</text>
<text x="800" y="904" text-anchor="middle" font-size="18" textLength="124" lengthAdjust="spacingAndGlyphs">Before Control</text>
<text x="1114" y="904" text-anchor="middle" font-size="18" textLength="108" lengthAdjust="spacingAndGlyphs">After Control</text>
<text x="955" y="929" text-anchor="middle" font-size="19" textLength="258" lengthAdjust="spacingAndGlyphs">Amplitude modulation effect</text>
</svg>
</body></html>
